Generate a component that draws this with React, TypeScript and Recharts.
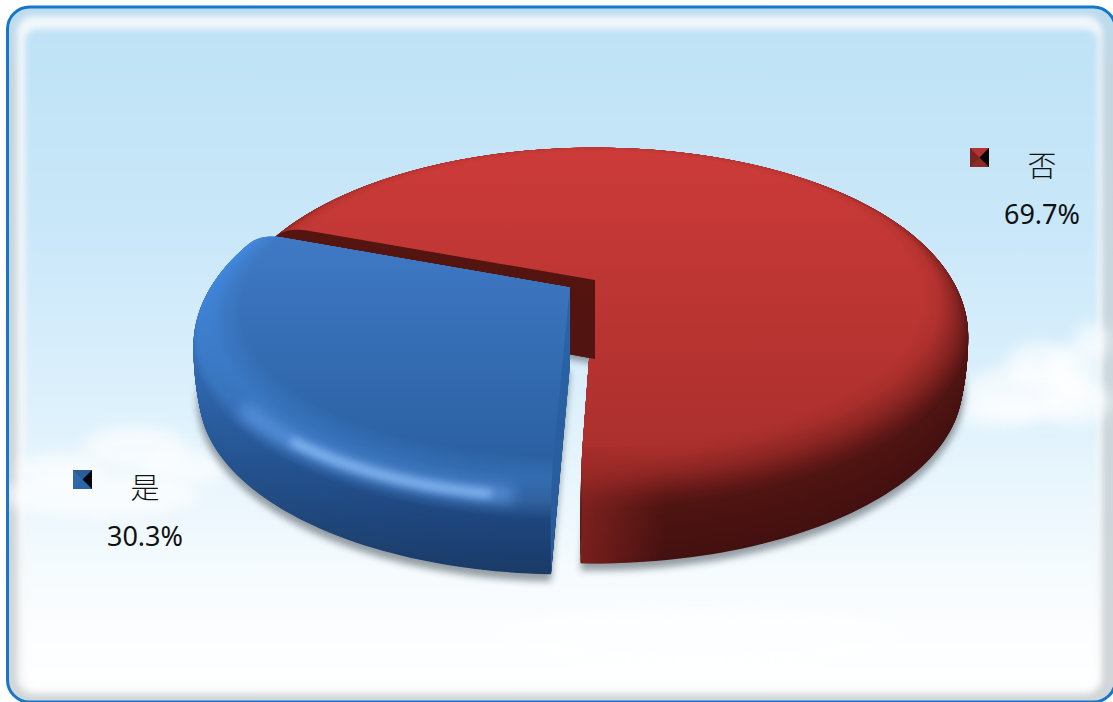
import { PieChart, Pie } from 'recharts';

const categories = ['否', '是'];
const shares = [69.7, 30.3];

const WIDTH = 1113;
const HEIGHT = 702;

// perspective of the disc
const CX = 595;
const CY = 280;
const RADIUS = 369;
const FLATTEN = 165 / 369;
const TILT = 0.15;
const DEPTH = 79;
const BEVEL_DEPTH = 30;
const BEVEL_START = 0.88;
const SIDE_LAYERS = 80;
const BEVEL_LAYERS = 70;

type Ramp = [number, string, string][];

const STYLES: Record<string, any> = {
  否: {
    explode: 0,
    y1: 146,
    y2: 570,
    wall: ['#561510', '#4e1311'],
    ramp: [
      [0, '#cc3b39', '#9e2b28'],
      [0.12, '#c03633', '#982926'],
      [0.25, '#8f2724', '#8a2522'],
      [0.4, '#64191a', '#601816'],
      [0.5, '#4e1411', '#4e1411'],
      [1, '#431010', '#431010'],
    ] as Ramp,
    marker: ['#b13430', '#7a2320', '#8c2a27', '#0a0505'],
    label: { x: 970, y: 148, textX: 1042, nameY: 177, valueY: 224 },
  },
  是: {
    explode: 30,
    y1: 230,
    y2: 577,
    wall: ['#2c66ad', '#275a98'],
    ramp: [
      [0, '#407ac6', '#205490'],
      [0.2, '#4288de', '#2f62a0'],
      [0.36, '#4490ea', '#2b5488'],
      [0.5, '#428ae0', '#17386a'],
      [1, '#3c86e2', '#1a3a66'],
    ] as Ramp,
    marker: ['#2a5c98', '#2f68ab', '#2d65a8', '#05070c'],
    label: { x: 73, y: 470, textX: 145, nameY: 499, valueY: 546 },
  },
};

const CLOUDS = [
  [1030, 392, 66, 26],
  [1040, 365, 34, 22],
  [1072, 368, 24, 22],
  [1092, 342, 18, 18],
  [1000, 412, 44, 14],
  [1075, 402, 36, 22],
  [135, 448, 52, 22],
  [60, 470, 44, 16],
  [185, 468, 44, 16],
  [100, 495, 100, 22],
  [700, 640, 200, 30],
];

const hexToRgb = (hex: string) => [1, 3, 5].map((i) => parseInt(hex.slice(i, i + 2), 16));

const mixHex = (a: string, b: string, k: number) => {
  const ca = hexToRgb(a);
  const cb = hexToRgb(b);
  return `rgb(${ca.map((v, i) => Math.round(v + (cb[i] - v) * k)).join(',')})`;
};

// colours of one layer of the rim: t runs from the flat top (0) to the bottom edge (1)
const rampAt = (ramp: Ramp, t: number) => {
  for (let i = 1; i < ramp.length; i++) {
    if (t <= ramp[i][0]) {
      const k = (t - ramp[i - 1][0]) / (ramp[i][0] - ramp[i - 1][0]);
      return [mixHex(ramp[i - 1][1], ramp[i][1], k), mixHex(ramp[i - 1][2], ramp[i][2], k)];
    }
  }
  const last = ramp[ramp.length - 1];
  return [last[1], last[2]];
};

const profile = (t: number) => {
  if (t <= 0.5) {
    const phi = (t / 0.5) * (Math.PI / 2);
    return {
      r: BEVEL_START + (1 - BEVEL_START) * Math.sin(phi),
      z: BEVEL_DEPTH * (1 - Math.cos(phi)),
    };
  }
  const k = (t - 0.5) / 0.5;
  return { r: 1 - 0.015 * k * k, z: BEVEL_DEPTH + (DEPTH - BEVEL_DEPTH) * k };
};

const RAD = Math.PI / 180;

function Disc3DSector(props: any) {
  const { cx, cy, outerRadius, startAngle, endAngle, midAngle, name } = props;
  const style = STYLES[name];
  const ox = style.explode * Math.cos(midAngle * RAD);
  const oy = style.explode * Math.sin(midAngle * RAD);

  const project = (angle: number, r: number, z: number) => {
    const wx = ox + outerRadius * r * Math.cos(angle * RAD);
    const wy = oy + outerRadius * r * Math.sin(angle * RAD);
    const s = 1 / (1 + (TILT * wy) / outerRadius);
    return [cx + wx * s, cy - FLATTEN * wy * s + z * s];
  };

  const toPath = (pts: number[][], close = true) =>
    'M' + pts.map((p) => `${p[0].toFixed(1)} ${p[1].toFixed(1)}`).join('L') + (close ? 'Z' : '');

  const arc = (r: number, z: number, a0 = startAngle, a1 = endAngle) => {
    const n = Math.max(2, Math.ceil(Math.abs(a1 - a0) / 1.5));
    const pts: number[][] = [];
    for (let i = 0; i <= n; i++) pts.push(project(a0 + ((a1 - a0) * i) / n, r, z));
    return pts;
  };

  const outline = (r: number, z: number) => toPath([project(0, 0, z), ...arc(r, z)]);

  // radial cut face, following the bevelled profile
  const wallPath = (angle: number) => {
    const pts = [project(angle, 0, 0)];
    for (let i = 0; i <= 20; i++) {
      const p = profile(i / 20);
      pts.push(project(angle, p.r, p.z));
    }
    pts.push(project(angle, 0, DEPTH));
    return toPath(pts);
  };

  const key = name === '否' ? 'no' : 'yes';
  const total = SIDE_LAYERS + BEVEL_LAYERS;
  const layers: { t: number; colors: string[] }[] = [];
  for (let i = 0; i <= total; i++) {
    const t = i <= SIDE_LAYERS
      ? 1 - (i / SIDE_LAYERS) * 0.5
      : 0.5 - ((i - SIDE_LAYERS) / BEVEL_LAYERS) * 0.5;
    layers.push({ t, colors: rampAt(style.ramp, t) });
  }

  const startVisible = Math.cos(startAngle * RAD) < 0;
  const endVisible = Math.cos(endAngle * RAD) > 0;

  // lit strip of the red rim next to the gap
  const cornerEnd = endAngle + 22;
  const cornerGlow = toPath([
    ...arc(BEVEL_START, 0, endAngle, cornerEnd),
    ...arc(0.985, DEPTH, cornerEnd, endAngle),
  ]);

  return (
    <g>
      <defs>
        {layers.map((l, i) => (
          <linearGradient key={i} id={`${key}-layer-${i}`} gradientUnits="userSpaceOnUse" x1="0" x2="0" y1={style.y1} y2={style.y2}>
            <stop offset="0" stopColor={l.colors[0]} />
            <stop offset="1" stopColor={l.colors[1]} />
          </linearGradient>
        ))}
        <linearGradient id={`${key}-wall`} gradientUnits="userSpaceOnUse" x1="0" x2="0" y1={style.y1} y2={style.y2}>
          <stop offset="0" stopColor={style.wall[0]} />
          <stop offset="1" stopColor={style.wall[1]} />
        </linearGradient>
        <linearGradient id={`${key}-corner`} gradientUnits="userSpaceOnUse" x1="577" x2="665" y1="0" y2="0">
          <stop offset="0" stopColor="#a02a28" stopOpacity={0.6} />
          <stop offset="1" stopColor="#a02a28" stopOpacity={0} />
        </linearGradient>
        <filter id={`${key}-soft`} x="-20%" y="-20%" width="140%" height="140%">
          <feGaussianBlur stdDeviation="3.5" />
        </filter>
        <filter id={`${key}-glow`} x="-30%" y="-80%" width="160%" height="260%">
          <feGaussianBlur stdDeviation="7" />
        </filter>
        <filter id={`${key}-glint`} x="-30%" y="-80%" width="160%" height="260%">
          <feGaussianBlur stdDeviation="4" />
        </filter>
      </defs>
      <path d={outline(0.99, DEPTH + 5)} fill="#59636b" opacity={0.62} filter={`url(#${key}-soft)`} />
      {layers.map((l, i) => (
        <path key={i} d={outline(profile(l.t).r, profile(l.t).z)} fill={`url(#${key}-layer-${i})`} />
      ))}
      {startVisible && <path d={wallPath(startAngle)} fill={`url(#${key}-wall)`} />}
      {endVisible && <path d={wallPath(endAngle)} fill={`url(#${key}-wall)`} />}
      {name === '否' && <path d={cornerGlow} fill={`url(#${key}-corner)`} />}
      {name === '是' && (
        <g fill="none">
          <path d={toPath(arc(0.985, 13, -97, -144), false)} stroke="#5a94e0" strokeWidth={16} opacity={0.85} filter={`url(#${key}-glow)`} />
          <path d={toPath(arc(0.985, 14, -100, -132), false)} stroke="#94c4fa" strokeWidth={7} opacity={0.95} filter={`url(#${key}-glint)`} />
        </g>
      )}
    </g>
  );
}

function SliceLabel(props: any) {
  const { name, percent } = props;
  const { marker, label } = STYLES[name];
  const { x, y, textX, nameY, valueY } = label;
  const size = 19;
  const mx = x + size / 2;
  const my = y + size / 2;
  return (
    <g>
      <rect x={x} y={y} width={size} height={size} fill={marker[1]} />
      <polygon points={`${x},${y} ${x + size},${y} ${mx},${my}`} fill={marker[0]} />
      <polygon points={`${x},${y + size} ${mx},${my} ${x + size},${y + size}`} fill={marker[2]} />
      <polygon points={`${x + size},${y} ${mx},${my} ${x + size},${y + size}`} fill={marker[3]} />
      <text x={textX} y={nameY} textAnchor="middle" fontSize={29} fontWeight={300} fill="#111" fontFamily="'Noto Sans CJK SC', sans-serif">
        {name}
      </text>
      <text x={textX} y={valueY} textAnchor="middle" fontSize={27} fill="#111" fontFamily="'Noto Sans', sans-serif">
        {(percent * 100).toFixed(1)}%
      </text>
    </g>
  );
}

function Backdrop() {
  return (
    <svg width={WIDTH} height={HEIGHT} style={{ position: 'absolute', left: 0, top: 0 }}>
      <defs>
        <linearGradient id="sky" x1="0" x2="0" y1="0" y2="1">
          <stop offset="0" stopColor="#bfe2f6" />
          <stop offset="0.3" stopColor="#c9e7f9" />
          <stop offset="0.6" stopColor="#e0f2fc" />
          <stop offset="0.85" stopColor="#f8fcfe" />
          <stop offset="1" stopColor="#ffffff" />
        </linearGradient>
        <linearGradient id="frame" x1="0" x2="0" y1="0" y2="1">
          <stop offset="0" stopColor="#bcdcf0" />
          <stop offset="0.1" stopColor="#c4d6e0" />
          <stop offset="1" stopColor="#d2d6d8" />
        </linearGradient>
        <filter id="edge" x="-5%" y="-5%" width="110%" height="110%">
          <feGaussianBlur stdDeviation="3" />
        </filter>
        <filter id="cloud" x="-40%" y="-40%" width="180%" height="180%">
          <feGaussianBlur stdDeviation="7" />
        </filter>
        <clipPath id="panel">
          <rect x={7.5} y={7} width={1108} height={695} rx={22} />
        </clipPath>
      </defs>
      <rect x={7.5} y={7} width={1108} height={695} rx={22} fill="url(#frame)" />
      <g clipPath="url(#panel)">
        <rect x={17} y={16} width={1085} height={678} rx={16} fill="#ffffff" opacity={0.8} filter="url(#edge)" />
        <rect x={25} y={29} width={1073} height={660} rx={12} fill="url(#sky)" filter="url(#edge)" />
        {CLOUDS.map(([cx, cy, rx, ry], i) => (
          <ellipse key={i} cx={cx} cy={cy} rx={rx} ry={ry} fill="#ffffff" opacity={0.65} filter="url(#cloud)" />
        ))}
      </g>
      <rect x={7.5} y={7} width={1108} height={695} rx={22} fill="none" stroke="#1577c9" strokeWidth={3} />
    </svg>
  );
}

export default function App() {
  const data = categories.map((name, i) => ({ name, value: shares[i] }));
  return (
    <div style={{ position: 'fixed', left: 0, top: 0, width: WIDTH, height: HEIGHT, overflow: 'hidden', background: '#fff' }}>
      <Backdrop />
      <div style={{ position: 'absolute', left: 0, top: 0 }}>
        <PieChart width={WIDTH} height={HEIGHT} margin={{ top: 0, right: 0, bottom: 0, left: 0 }}>
          <Pie
            data={data}
            dataKey="value"
            nameKey="name"
            cx={CX}
            cy={CY}
            innerRadius={0}
            outerRadius={RADIUS}
            startAngle={-201}
            endAngle={-561}
            paddingAngle={0}
            stroke="none"
            shape={Disc3DSector}
            label={SliceLabel}
            labelLine={false}
            isAnimationActive={false}
          />
        </PieChart>
      </div>
    </div>
  );
}
